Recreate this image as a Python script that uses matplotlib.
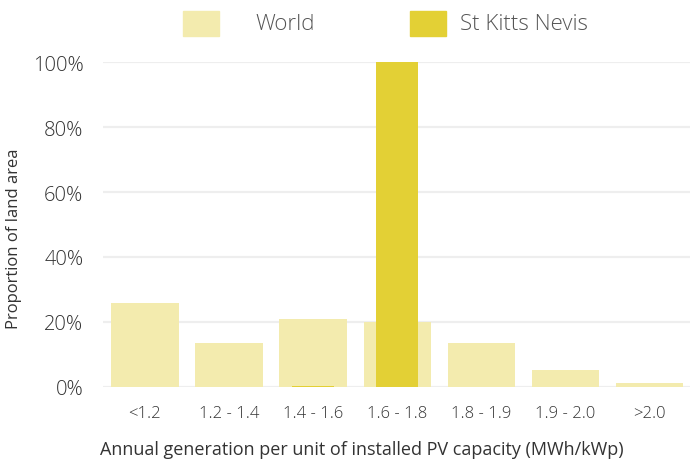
import matplotlib
matplotlib.use('Agg')
import matplotlib.pyplot as plt
from matplotlib.patches import Rectangle
import numpy as np

plt.rcParams['font.family'] = ['Open Sans', 'DejaVu Sans']
plt.rcParams['font.weight'] = 300

categories = ['<1.2', '1.2 - 1.4', '1.4 - 1.6', '1.6 - 1.8', '1.8 - 1.9', '1.9 - 2.0', '>2.0']
world = [25.7, 13.5, 21.0, 19.9, 13.4, 5.2, 1.2]
country = [0, 0, 0.4, 100, 0, 0, 0]
series_names = ['World', 'St Kitts Nevis']
yticks = [0, 20, 40, 60, 80, 100]

c_world = '#F3EBAE'
c_country = '#E3D035'
txt = '#333333'

fig = plt.figure(figsize=(6.9, 4.64), dpi=100)
ax = fig.add_axes([0.149, 0.164, 0.851, 0.700])

x = np.arange(len(categories))
ax.bar(x, world, width=0.8, color=c_world, zorder=2)
ax.bar(x, country, width=0.5, color=c_country, zorder=3)

ax.set_xlim(-0.5, 6.48)
ax.set_ylim(0, 100)
ax.set_yticks(yticks)
ax.set_yticklabels([f'{v}%' for v in yticks], fontsize=14.5, color=txt)
ax.set_xticks(x)
ax.set_xticklabels(categories, fontsize=12, color=txt)
ax.tick_params(length=0)
ax.tick_params(axis='y', pad=14)
ax.tick_params(axis='x', pad=13)
ax.grid(axis='y', color='#eeeeee', linewidth=1.6, zorder=0)
ax.set_axisbelow(True)
for s in ax.spines.values():
    s.set_visible(False)

ax.set_ylabel('Proportion of land area', fontsize=12, color=txt)
ax.yaxis.set_label_coords(-0.138, 0.46)
ax.set_xlabel('Annual generation per unit of installed PV capacity (MWh/kWp)', fontsize=13, color=txt)
ax.xaxis.set_label_coords(0.441, -0.162)

# legend drawn in figure pixels
W, H = 690, 464
leg = [(183, 255), (410, 460)]
for (px, tx), name, col in zip(leg, series_names, [c_world, c_country]):
    fig.patches.append(Rectangle((px / W, 1 - 37 / H), 36 / W, 25 / H,
                                 transform=fig.transFigure, color=col))
    fig.text(tx / W, 1 - 24 / H, name, fontsize=16, color='#555555', va='center', ha='left')

fig.savefig('out.png', dpi=100)
